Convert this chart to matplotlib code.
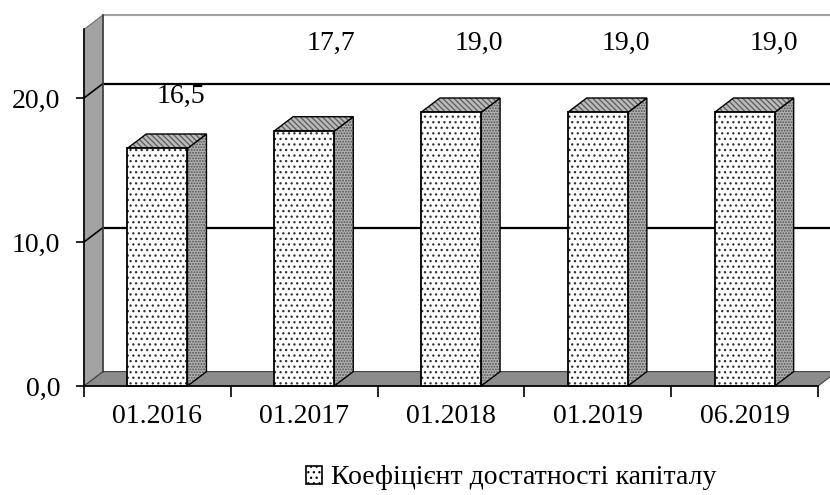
import numpy as np
import matplotlib
matplotlib.use("Agg")
from matplotlib import pyplot as plt
from matplotlib.patches import Polygon, Patch

categories = ["01.2016", "01.2017", "01.2018", "01.2019", "06.2019"]
values = [16.5, 17.7, 19.0, 19.0, 19.0]
value_labels = ["16,5", "17,7", "19,0", "19,0", "19,0"]
y_ticks = [0, 10, 20]
y_tick_labels = ["0,0", "10,0", "20,0"]
series_name = "Коефіцієнт достатності капіталу"

# where Excel put the data labels (it does odd things in 3D)
label_y = [20.1, 23.8, 23.8, 23.8, 23.8]
label_dx = [0.16, 0.18, 0.19, 0.19, 0.2]

plt.rcParams['font.family'] = ['Liberation Serif', 'DejaVu Serif']
plt.rcParams['hatch.linewidth'] = 0.9
FS = 20

fig = plt.figure(figsize=(8.3, 4.95), dpi=100)
ax = fig.add_axes([84 / 830, 1 - 386 / 495, 734 / 830, 371 / 495])
ymax = 371 / 14.4
ax.set_xlim(-0.5, 4.5)
ax.set_ylim(0, ymax)

ddx, ddy = 19 / 147, 1.0   # depth offset
w = 0.41
n = len(categories)


def face(pts, fc, hatch, hc, z, lw=1.0):
    # hatch colour follows edgecolor, so fill and outline separately
    ax.add_patch(Polygon(pts, facecolor=fc, edgecolor=hc, hatch=hatch, lw=0, zorder=z, clip_on=False))
    ax.add_patch(Polygon(pts, facecolor="none", edgecolor="black", lw=lw, zorder=z, clip_on=False))


# back wall
ax.plot([-0.5 + ddx, 4.5 + ddx], [ymax, ymax], color="#a0a0a0", lw=1.5, zorder=1, clip_on=False)
for v in y_ticks[1:]:
    ax.plot([-0.5 + ddx, 4.5 + ddx], [v + ddy, v + ddy], color="black", lw=1.6, zorder=1, clip_on=False)

# left wall
ax.add_patch(Polygon([(-0.5, 0), (-0.5 + ddx, ddy), (-0.5 + ddx, ymax), (-0.5, ymax - ddy)],
                     facecolor="#a3a3a3", edgecolor="#707070", lw=0.8, zorder=2, clip_on=False))
for v in y_ticks[1:]:
    ax.plot([-0.5, -0.5 + ddx], [v, v + ddy], color="black", lw=1.2, zorder=3, clip_on=False)
ax.plot([-0.5 + ddx, -0.5 + ddx], [ddy, ymax], color="#404040", lw=1.2, zorder=3, clip_on=False)

# floor
ax.add_patch(Polygon([(-0.5, 0), (4.5, 0), (4.5 + ddx, ddy), (-0.5 + ddx, ddy)],
                     facecolor="#8c8c8c", edgecolor="#404040", lw=0.8, zorder=2, clip_on=False))

# bars
for i, v in enumerate(values):
    x0, x1 = i - w / 2, i + w / 2
    face([(x1, 0), (x1 + ddx, ddy), (x1 + ddx, v + ddy), (x1, v)], "#b0b0b0", "......", "#505050", 4)
    face([(x0, v), (x1, v), (x1 + ddx, v + ddy), (x0 + ddx, v + ddy)], "#bababa", "\\\\\\\\\\\\", "#5a5a5a", 4)
    face([(x0, 0), (x1, 0), (x1, v), (x0, v)], "white", "...", "#303030", 5, lw=1.3)
    ax.text(i + label_dx[i], label_y[i], value_labels[i], ha="center", va="center",
            fontsize=FS, zorder=6)

# axes
for s in ["top", "right"]:
    ax.spines[s].set_visible(False)
ax.spines["left"].set_bounds(0, ymax - ddy)
ax.spines["left"].set_linewidth(1.2)
ax.spines["bottom"].set_linewidth(1.2)
ax.spines["left"].set_zorder(6)
ax.spines["bottom"].set_zorder(6)
ax.set_yticks(y_ticks)
ax.set_yticklabels(y_tick_labels, fontsize=FS)
ax.set_xticks(np.arange(-0.5, n, 1.0))
ax.set_xticklabels([])
ax.set_xticks(np.arange(n), minor=True)
ax.set_xticklabels(categories, minor=True, fontsize=FS)
ax.tick_params(axis="x", which="major", direction="out", length=8, width=1.2)
ax.tick_params(axis="x", which="minor", length=0, pad=13)
ax.tick_params(axis="y", direction="out", length=6, width=1.2, pad=11)

handle = Patch(facecolor="white", edgecolor="black", hatch="...", lw=1.2)
fig.legend([handle], [series_name], loc="center", bbox_to_anchor=(511 / 830, 1 - 478 / 495),
           frameon=False, fontsize=FS, handlelength=0.6, handleheight=0.6, handletextpad=0.3)

fig.savefig("out.png", dpi=100)
